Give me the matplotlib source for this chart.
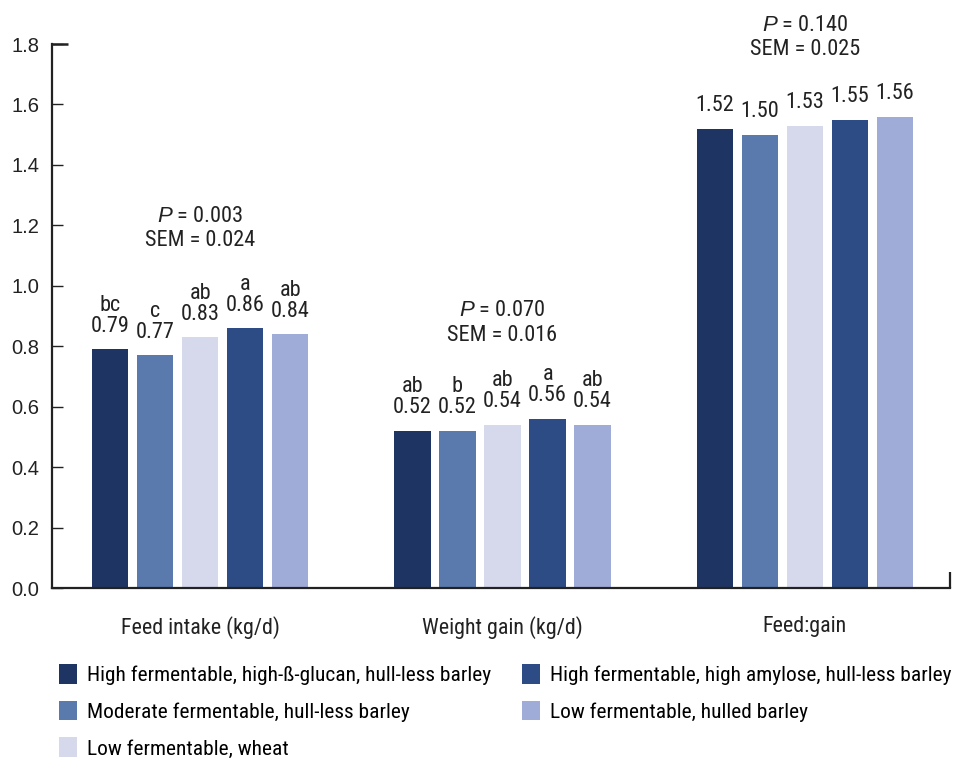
import matplotlib
matplotlib.use("Agg")
import matplotlib.pyplot as plt
import numpy as np
from matplotlib.patches import Patch

COND = ['Roboto Condensed', 'DejaVu Sans']
plt.rcParams['font.family'] = COND
plt.rcParams['mathtext.fontset'] = 'custom'
plt.rcParams['mathtext.it'] = 'Liberation Sans:italic'
plt.rcParams['mathtext.rm'] = 'Roboto Condensed'

categories = ["Feed intake (kg/d)", "Weight gain (kg/d)", "Feed:gain"]
diets = [
    "High fermentable, high-\u00df-glucan, hull-less barley",
    "Moderate fermentable, hull-less barley",
    "Low fermentable, wheat",
    "High fermentable, high amylose, hull-less barley",
    "Low fermentable, hulled barley",
]
values = [
    [0.79, 0.52, 1.52],
    [0.77, 0.52, 1.50],
    [0.83, 0.54, 1.53],
    [0.86, 0.56, 1.55],
    [0.84, 0.54, 1.56],
]
letters = [
    ["bc", "ab", ""],
    ["c", "b", ""],
    ["ab", "ab", ""],
    ["a", "a", ""],
    ["ab", "ab", ""],
]
p_values = ["0.003", "0.070", "0.140"]
sem_values = ["0.024", "0.016", "0.025"]
stat_y = [1.116, 0.802, 1.748]
colors = ["#1e3462", "#5a79ad", "#d6d9ec", "#2d4c85", "#a0acd8"]
ink = "#222222"

fig = plt.figure(figsize=(9.55, 7.61), dpi=100)
ax = fig.add_axes([52 / 955, 173 / 761, 898 / 955, 544 / 761])

x = np.arange(len(categories))
step = 0.149
width = 0.12
for i, (vals, col) in enumerate(zip(values, colors)):
    xs = x + (i - 2) * step
    ax.bar(xs, vals, width=width, color=col, zorder=2)
    for xi, v, let in zip(xs, vals, letters[i]):
        txt = f"{let}\n{v:.2f}" if let else f"{v:.2f}"
        ax.annotate(txt, (xi, v), xytext=(0, 9), textcoords="offset points",
                    ha="center", va="bottom", fontsize=16, linespacing=1.0,
                    color=ink)

for xi, p, s, yy in zip(x, p_values, sem_values, stat_y):
    ax.text(xi, yy, "$\\it{P}$" + f" = {p}\nSEM = {s}", ha="center", va="bottom",
            fontsize=16, linespacing=1.2, color=ink)

ax.set_xlim(-0.49, 2.48)
ax.set_ylim(0, 1.8)
ticks = np.arange(0, 1.81, 0.2)
ax.set_yticks(ticks)
ax.set_yticklabels([f"{t:.1f}" for t in ticks],
                   family=['Liberation Sans', 'DejaVu Sans'], fontsize=14.5)
ax.tick_params(axis="y", direction="in", length=8, width=1, pad=9, colors=ink)
ax.set_xticks(x)
ax.set_xticklabels(categories, fontsize=15.8, color=ink)
ax.tick_params(axis="x", length=0, pad=20)

for side in ("top", "right"):
    ax.spines[side].set_visible(False)
for side in ("left", "bottom"):
    ax.spines[side].set_linewidth(1.6)
    ax.spines[side].set_color(ink)

# longer cap at the top of the value axis and a short end mark on the right
ax.plot([0, 0.018], [1, 1], transform=ax.transAxes, color=ink, lw=1.8,
        clip_on=False, solid_capstyle="butt")
ax.plot([1, 1], [0, 0.03], transform=ax.transAxes, color=ink, lw=1.6,
        clip_on=False, solid_capstyle="butt")

handles = [Patch(facecolor=c, edgecolor="none") for c in colors]
fig.legend(handles, diets, loc="upper left", bbox_to_anchor=(59 / 955, 1 - 664 / 761),
           ncol=2, frameon=False, fontsize=15.4, handlelength=0.85, handleheight=1.05,
           handletextpad=0.45, labelspacing=0.72, columnspacing=1.45,
           borderaxespad=0, borderpad=0.0)

fig.savefig("out.png", dpi=100, facecolor="white")
